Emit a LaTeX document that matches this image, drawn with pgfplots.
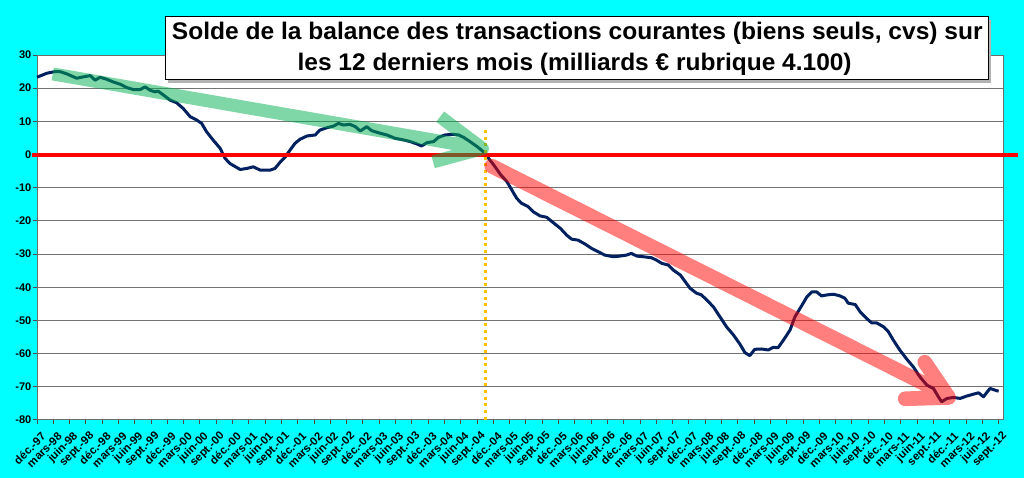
\documentclass[border=0pt]{standalone}
\usepackage{pgfplots}
\pgfplotsset{compat=1.18}
\usepackage{fontspec}
\setmainfont{Liberation Sans}
\usepackage{graphicx}
\definecolor{bgcyan}{RGB}{0,255,255}
\definecolor{navy}{RGB}{0,32,96}
\definecolor{gband}{RGB}{0,176,80}
\definecolor{gold}{RGB}{255,192,0}
\begin{document}
\begin{tikzpicture}[x=1pt,y=1pt]
\fill[bgcyan] (0,0) rectangle (768,358.5);
\useasboundingbox (0,0) rectangle (768,358.5);
\begin{axis}[
  at={(27.75pt,43.5pt)}, anchor=south west,
  scale only axis, width=724.5pt, height=273.75pt,
  xmin=0, xmax=177.8, ymin=-80, ymax=30,
  axis background/.style={fill=white},
  ytick={-80,-70,-60,-50,-40,-30,-20,-10,0,10,20,30},
  yticklabels={-80,-70,-60,-50,-40,-30,-20,-10,0,10,20,30},
  xtick={0,3,...,177},
  xticklabels={déc.-97, mars-98, juin-98, sept.-98, déc.-98, mars-99, juin-99, sept.-99, déc.-99, mars-00, juin-00, sept.-00, déc.-00, mars-01, juin-01, sept.-01, déc.-01, mars-02, juin-02, sept.-02, déc.-02, mars-03, juin-03, sept.-03, déc.-03, mars-04, juin-04, sept.-04, déc.-04, mars-05, juin-05, sept.-05, déc.-05, mars-06, juin-06, sept.-06, déc.-06, mars-07, juin-07, sept.-07, déc.-07, mars-08, juin-08, sept.-08, déc.-08, mars-09, juin-09, sept.-09, déc.-09, mars-10, juin-10, sept.-10, déc.-10, mars-11, juin-11, sept.-11, déc.-11, mars-12, juin-12, sept.-12},
  ymajorgrids, grid style={gray!90!black, line width=0.75pt},
  axis line style={gray!85!black, line width=0.75pt},
  tick style={gray!60!black, line width=0.75pt},
  tick align=outside, major tick length=3pt,
  xtick pos=bottom, ytick pos=left,
  yticklabel style={font=\bfseries\fontsize{8.3}{9}\selectfont, inner sep=1pt},
  xticklabel style={font=\bfseries\fontsize{8.5}{9}\selectfont, rotate=45, anchor=east, inner sep=0pt, xshift=-2pt, yshift=-9pt},
  clip=false,
]
\addplot[navy, line width=2.25pt, line join=round, mark=none] coordinates {
(0,23.3)(1.8,24.5)(3.3,25.0)(4.2,25.0)(5.5,24.3)(7.3,23.0)(8.5,23.4)(9.8,23.8)
(10.7,22.4)(11.6,23.3)(12.8,22.7)(14.0,21.9)(15.3,21.2)(16.5,20.2)(17.7,19.6)
(19.0,19.6)(19.9,20.4)(20.8,19.4)(21.7,18.9)(22.3,19.1)(23.3,17.9)(24.5,16.4)
(25.7,15.6)(26.9,13.9)(28.2,11.4)(29.4,10.4)(30.3,9.4)(31.2,6.9)(32.4,4.4)
(33.7,1.9)(34.6,-1.1)(35.5,-2.7)(37.4,-4.5)(38.6,-4.2)(39.8,-3.7)(41.1,-4.7)
(42.9,-4.7)(43.8,-4.2)(44.8,-2.2)(45.7,-0.7)(46.6,1.4)(47.5,3.4)(48.4,4.6)
(49.7,5.6)(51.2,5.9)(52.1,7.4)(53.4,8.1)(54.6,8.6)(55.5,9.4)(56.4,8.9)(57.6,9.1)
(58.6,8.4)(59.5,7.1)(60.7,8.4)(61.6,7.2)(63.2,6.4)(64.4,5.9)(65.9,4.9)(67.5,4.4)
(68.7,3.9)(69.9,3.2)(70.8,2.6)(71.8,3.6)(73.0,3.9)(73.9,5.2)(75.1,5.9)(76.4,6.1)
(77.6,5.9)(78.5,5.2)(79.7,3.9)(81.0,2.4)(82.2,0.8)(83.1,-1.1)(84.1,-3.2)
(85.3,-6.0)(86.5,-8.2)(87.4,-10.7)(88.3,-13.2)(89.2,-14.7)(90.4,-15.7)(91.3,-17.2)
(92.6,-18.5)(93.8,-18.9)(95.0,-20.5)(96.3,-22.2)(97.5,-24.3)(98.4,-25.5)(99.6,-25.8)
(100.9,-27.0)(102.1,-28.3)(103.3,-29.3)(104.5,-30.3)(106.1,-30.8)(107.3,-30.6)
(108.5,-30.3)(109.4,-29.8)(110.4,-30.6)(111.6,-30.8)(113.1,-31.1)(114.0,-31.8)
(115.0,-32.8)(116.2,-33.3)(117.1,-34.8)(118.4,-36.3)(119.3,-38.3)(120.2,-40.3)
(121.4,-41.8)(122.3,-42.3)(123.3,-43.9)(124.5,-45.9)(125.7,-48.9)(126.9,-51.9)
(128.2,-54.4)(129.4,-57.2)(130.3,-59.7)(131.2,-60.6)(132.1,-58.7)(133.4,-58.6)
(134.6,-58.9)(135.5,-58.1)(136.4,-58.2)(137.4,-55.9)(138.6,-52.9)(139.5,-48.9)
(140.8,-45.4)(141.7,-42.9)(142.6,-41.4)(143.5,-41.4)(144.4,-42.6)(145.4,-42.3)
(146.6,-42.1)(147.8,-42.6)(148.7,-43.3)(149.3,-44.8)(150.6,-45.2)(151.5,-47.4)
(152.7,-49.4)(153.6,-50.7)(154.5,-50.7)(155.8,-51.9)(156.7,-53.4)(157.6,-55.9)
(158.8,-58.9)(160.1,-61.7)(161.3,-64.0)(162.5,-67.0)(163.8,-69.5)(165.0,-70.5)
(165.9,-73.0)(166.5,-74.5)(167.5,-73.5)(168.7,-73.2)(169.9,-73.5)(171.1,-72.8)
(172.4,-72.2)(173.3,-71.8)(174.2,-73.0)(175.4,-70.5)(176.7,-71.2)(177.0,-71.3)
};
\draw[red, line width=3pt] (axis cs:-0.9,0) -- (axis cs:180.6,0);
\draw[gold, line width=2.25pt, dash pattern=on 2.25pt off 2.75pt] (axis cs:82.6,7.4) -- (axis cs:82.6,-80);
\draw[gband, opacity=0.5, line width=9.75pt, line cap=butt, line join=round]
  (axis cs:2.9,24.3) -- (axis cs:82,1.8)
  (axis cs:74.2,11.4) -- (axis cs:82,1.8) -- (axis cs:72.9,-2.2);
\draw[red, opacity=0.5, line width=11pt, line cap=round, line join=round]
  (axis cs:83.7,-3.5) -- (axis cs:167.5,-72.5)
  (axis cs:163.4,-62.6) -- (axis cs:167.8,-73.2) -- (axis cs:159.8,-73.6);
\end{axis}
\fill[gray!60] (126,296.25) rectangle (743.25,343.5);
\filldraw[fill=white, draw=black, line width=0.75pt] (123.75,298.5) rectangle (741,345.75);
\node[anchor=base, inner sep=0pt] at (433,328.5) {\resizebox{608pt}{\height}{\bfseries\fontsize{18}{20}\selectfont Solde de la balance des transactions courantes (biens seuls, cvs) sur}};
\node[anchor=base, inner sep=0pt] at (431,305.25) {\resizebox{415.5pt}{\height}{\bfseries\fontsize{18}{20}\selectfont les 12 derniers mois (milliards € rubrique 4.100)}};
\end{tikzpicture}
\end{document}
